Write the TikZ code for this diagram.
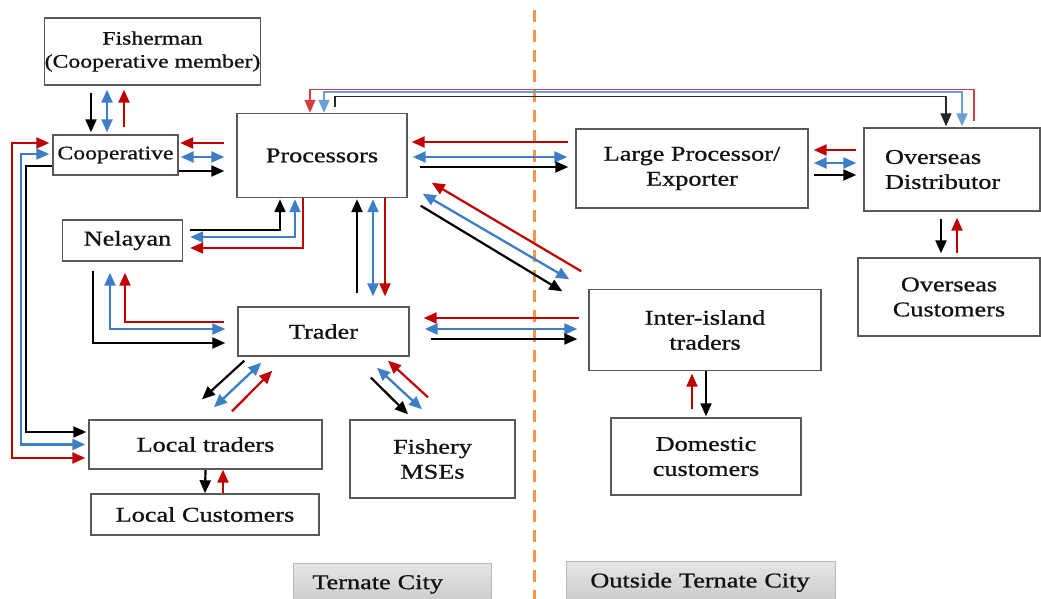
\documentclass[tikz,border=0pt]{standalone}
\usepackage{fontspec}
\setmainfont{Liberation Serif}[FakeStretch=1.25,FakeBold=0.8]
\usetikzlibrary{arrows.meta,calc}
\definecolor{ared}{HTML}{C00000}
\definecolor{ablue}{HTML}{3D7EC6}
\definecolor{aorange}{HTML}{F79646}
\definecolor{bordergray}{HTML}{595959}
\definecolor{txtc}{HTML}{111111}
\tikzset{Tr/.tip={Triangle[length=13pt,width=11pt]}}
\begin{document}
\begin{tikzpicture}[x=1pt,y=-1pt,
  box/.style={draw=bordergray, line width=1.4pt, inner sep=0pt, align=center, text=txtc, font=\fontsize{21}{25}\selectfont, fill=white},
  lbl/.style={draw=gray!55, line width=0.8pt, top color=gray!20, bottom color=gray!42, inner ysep=0pt, align=left, text=txtc, font=\fontsize{21}{25}\selectfont, anchor=north west},
  arrK/.style={line width=2.2pt, black, -Tr},
  arrR/.style={line width=2.2pt, ared, -Tr},
  arrRR/.style={line width=2.2pt, ared, Tr-Tr},
  arrB/.style={line width=2.3pt, ablue, Tr-Tr},
  thinK/.style={line width=1.4pt, black!85, -Tr},
  thinR/.style={line width=1.4pt, ared!75, -Tr},
  thinB/.style={line width=1.8pt, ablue!75, Tr-Tr}
]
\clip (0,0) rectangle (1041,599);
\fill[white] (0,0) rectangle (1041,599);

% divider
\draw[aorange, line width=3pt, dash pattern=on 12pt off 8pt] (534,10) -- (534,605);

% boxes
\node[box, minimum width=215, minimum height=67, font=\fontsize{19}{23}\selectfont] (fish) at (152.5,51.5) {Fisherman\\(Cooperative member)};
\node[box, minimum width=125, minimum height=40, font=\fontsize{19}{23}\selectfont] (coop) at (115.5,155) {Cooperative};
\node[box, minimum width=170, minimum height=84] (proc) at (322,155.5) {Processors};
\node[box, minimum width=120, minimum height=41] (nel) at (122.5,240.5) {\hspace*{10pt}Nelayan};
\node[box, minimum width=171, minimum height=49] (trader) at (323.5,331.5) {Trader};
\node[box, minimum width=233, minimum height=49] (ltr) at (205.5,444.5) {Local traders};
\node[box, minimum width=228, minimum height=41] (lcust) at (205,514.5) {Local Customers};
\node[box, minimum width=165, minimum height=78] (msme) at (432.5,459) {Fishery\\MSEs};
\node[box, minimum width=232, minimum height=79] (lpe) at (692,168.5) {Large Processor/\\Exporter};
\node[box, minimum height=83, inner xsep=21pt, text width=134pt, align=left] (odist) at (952,169.5) {Overseas\\Distributor};
\node[box, minimum width=182, minimum height=78] (ocust) at (949,297) {Overseas\\Customers};
\node[box, minimum width=232, minimum height=81] (iisl) at (705,330) {Inter-island\\traders};
\node[box, minimum width=190, minimum height=77] (dom) at (706,456.5) {Domestic\\customers};

% region labels
\node[lbl, minimum height=42, inner xsep=19pt, text width=160pt] (tc) at (293,563) {Ternate City};
\node[lbl, minimum height=42, inner xsep=24pt, text width=221pt] (otc) at (566,561) {Outside Ternate City};

% Fisherman <-> Cooperative
\draw[arrK] ($(fish.south)+(-61.5,7)$) -- ($(coop.north)+(-24.5,-2)$);
\draw[arrB] ($(fish.south)+(-45.5,4)$) -- ($(coop.north)+(-8.5,-2)$);
\draw[arrR] ($(coop.north)+(8.5,-7)$) -- ($(fish.south)+(-28.5,4)$);

% Cooperative <-> Processors
\draw[arrR] ($(proc.west)+(-12,-12.5)$) -- ($(coop.east)+(1.5,-12)$);
\draw[arrB] ($(coop.east)+(2,2)$) -- ($(proc.west)+(-12,1.5)$);
\draw[arrK] ($(coop.east)+(0,16)$) -- ($(proc.west)+(-12,15.5)$);

% Cooperative <-> Local traders
\draw[arrRR] ($(coop.west)+(-3,-12)$) -| ($(ltr.west)+(-76,13.5)$) -- ($(ltr.west)+(-3,13.5)$);
\draw[arrB] ($(coop.west)+(-3,-1)$) -| ($(ltr.west)+(-67,0)$) -- ($(ltr.west)+(-3,0)$);
\draw[arrK] ($(coop.west)+(0,11)$) -| ($(ltr.west)+(-62,-12.5)$) -- ($(ltr.west)+(-2,-12.5)$);

% Nelayan <-> Processors
\draw[arrK] ($(nel.east)+(6.5,-10.5)$) -| ($(proc.south)+(-42,1)$);
\draw[arrB] ($(nel.east)+(7,-3.5)$) -| ($(proc.south)+(-27,1)$);
\draw[arrR] ($(proc.south)+(-19,0)$) |- ($(nel.east)+(7,7.5)$);

% Trader <-> Processors
\draw[arrK] ($(trader.north)+(33.5,-13)$) -- ($(proc.south)+(35,1)$);
\draw[arrB] ($(proc.south)+(51,1)$) -- ($(trader.north)+(49.5,-10)$);
\draw[arrR] ($(proc.south)+(63,0)$) -- ($(trader.north)+(61.5,-10)$);

% Nelayan <-> Trader
\draw[arrK] ($(nel.south)+(-29.5,9)$) |- ($(trader.west)+(-12,11.5)$);
\draw[arrB] ($(nel.south)+(-12.5,11)$) |- ($(trader.west)+(-12,-2.5)$);
\draw[arrR] ($(trader.west)+(-13,-9.5)$) -| ($(nel.south)+(2.5,11)$);

% Trader <-> Local traders
\draw[arrK] ($(trader.south west)+(7,4)$) -- ($(ltr.north)+(-3.5,-20)$);
\draw[arrB] ($(trader.south west)+(24,6)$) -- ($(ltr.north)+(8.5,-12)$);
\draw[arrR] ($(ltr.north)+(26.5,-8)$) -- ($(trader.south west)+(35,14)$);

% Trader <-> Fishery MSEs
\draw[arrK] ($(trader.south)+(47.5,21)$) -- ($(msme.north)+(-24.5,-5)$);
\draw[arrB] ($(trader.south)+(53.5,11)$) -- ($(msme.north)+(-10.5,-10)$);
\draw[arrR] ($(msme.north)+(-4.5,-22)$) -- ($(trader.south)+(64.5,4)$);

% Local traders <-> Local customers
\draw[arrK] ($(ltr.south)+(0,0.5)$) -- (lcust.north);
\draw[arrR] ($(lcust.north)+(18,0)$) -- ($(ltr.south)+(17.5,0)$);

% Processors <-> Large Processor
\draw[arrR] ($(lpe.west)+(-7,-26.5)$) -- ($(proc.east)+(4,-13.5)$);
\draw[arrB] ($(proc.east)+(5,1.5)$) -- ($(lpe.west)+(-8,-11.5)$);
\draw[arrK] ($(proc.east)+(12,11.5)$) -- ($(lpe.west)+(-7,-1.5)$);

% Large Processor <-> Overseas Distributor
\draw[arrR] ($(odist.west)+(-7,-19.5)$) -- ($(lpe.east)+(5,-18.5)$);
\draw[arrB] ($(lpe.east)+(5,-5.5)$) -- ($(odist.west)+(-7,-6.5)$);
\draw[arrK] ($(lpe.east)+(5,6.5)$) -- ($(odist.west)+(-7,5.5)$);

% Processors <-> Overseas Distributor (top route)
\draw[thinR] ($(odist.north)+(22,-6)$) |- ($(proc.north)+(-12,-23.5)$) -- ($(proc.north)+(-12,0)$);
\draw[thinB] ($(proc.north)+(2,0)$) -- ($(proc.north)+(2,-20.5)$) -| ($(odist.north)+(10,-1)$);
\draw[thinK] ($(proc.north)+(13,-5.5)$) |- ($(odist.north)+(-6,-31)$) -- ($(odist.north)+(-6,-1)$);

% Processors <-> Inter-island traders
\draw[arrR] ($(iisl.north west)+(-7,-17.5)$) -- ($(proc.south east)+(24,-15.5)$);
\draw[arrB] ($(proc.south east)+(15,-4.5)$) -- ($(iisl.north west)+(-19,-9.5)$);
\draw[arrK] ($(proc.south east)+(13,7.5)$) -- ($(iisl.north west)+(-26,2.5)$);

% Trader <-> Inter-island traders
\draw[arrR] ($(iisl.west)+(-9,-12)$) -- ($(trader.east)+(14,-13.5)$);
\draw[arrB] ($(trader.east)+(15,-2.5)$) -- ($(iisl.west)+(-11,-1)$);
\draw[arrK] ($(trader.east)+(21,7.5)$) -- ($(iisl.west)+(-11,9)$);

% Inter-island <-> Domestic
\draw[arrR] ($(dom.north)+(-14,-8)$) -- ($(iisl.south)+(-13,2.5)$);
\draw[arrK] ($(iisl.south)+(1,0)$) -- ($(dom.north)+(0,-1)$);

% Overseas Distributor <-> Overseas Customers
\draw[arrK] ($(odist.south)+(-11,7)$) -- ($(ocust.north)+(-8,-4)$);
\draw[arrR] ($(ocust.north)+(8,-4)$) -- ($(odist.south)+(5,6)$);
\end{tikzpicture}
\end{document}
